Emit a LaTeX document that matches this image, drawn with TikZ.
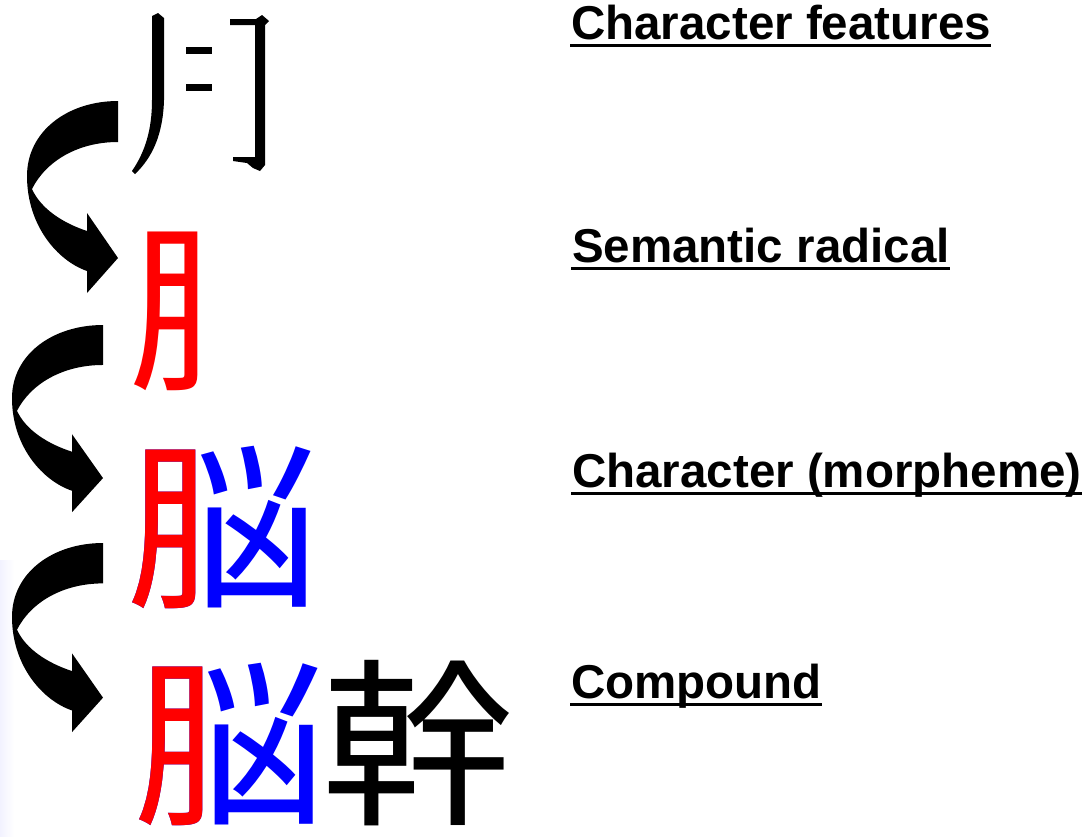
\documentclass[tikz,border=0pt]{standalone}
\usepackage{fontspec}
\setmainfont{Liberation Sans}
\newfontfamily\cjk{Noto Sans CJK JP}
\usetikzlibrary{calc}
\definecolor{radred}{RGB}{255,0,0}
\definecolor{phonblue}{RGB}{0,0,255}
\newcommand{\widechar}[1]{\scalebox{1.07}[1]{#1}}
\tikzset{
  lbl/.style={anchor=base west, inner sep=0pt, font=\fontsize{47.5}{55}\selectfont\bfseries},
  ul/.style={line width=3.5pt},
  han/.style={anchor=base west, inner sep=0pt, font=\cjk\fontsize{180}{200}\selectfont},
  curvarrow/.pic={
    \fill[black] (0,0) .. controls (-50,0) and (-91,30) .. (-91,75)
      .. controls (-91,125) and (-60,160) .. (-31,170)
      -- (-31,192) -- (0,157) -- (-31,112) -- (-31,130)
      .. controls (-55,122) and (-77,108) .. (-86,88)
      .. controls (-72,60) and (-40,41) .. (0,41) -- cycle;
  }
}
\begin{document}
\begin{tikzpicture}[x=1pt,y=-1pt]
\useasboundingbox (0,0) rectangle (1083,836);
\shade[left color=blue!5, right color=white] (0,560) rectangle (14,836);

% row 1: character features (separate strokes)
\fill (152,16) -- (158,13) -- (164,18) -- (164,100)
  .. controls (163,135) and (152,158) .. (135,174) -- (132,171)
  .. controls (145,152) and (152,130) .. (152,100) -- cycle;
\fill (186,47) rectangle (212,54);
\fill (186,84) rectangle (212,91);
\fill (230,19) -- (256,19) -- (262,15) -- (269,21) -- (265,25) -- (265,165)
  -- (260,171) -- (253,168) -- (247,163) -- (233,161) -- (233,157)
  -- (255,157) -- (255,25) -- (230,25) -- cycle;

% row 2: semantic radical (left part of 脳)
\begin{scope}
  \clip (100,200) rectangle (200,400);
  \node[han, text=radred] (rad) at (128,376) {\widechar{脳}};
\end{scope}

% row 3: character
\node[han, text=phonblue] (chr) at (126,594) {\widechar{脳}};
\begin{scope}
  \clip (100,420) rectangle (198,620);
  \node[han, text=radred] (chrL) at (126,594) {\widechar{脳}};
\end{scope}

% row 4: compound
\node[han, text=phonblue] (cmpA) at (133,811) {\widechar{脳}};
\begin{scope}
  \clip (100,640) rectangle (205,836);
  \node[han, text=radred] (cmpAL) at (133,811) {\widechar{脳}};
\end{scope}
\node[han] (cmpB) at (321,811) {\widechar{幹}};

% arrows
\pic at (118,101) {curvarrow};
\pic[yscale=0.975] at (103,325) {curvarrow};
\pic[yscale=0.985] at (103,543) {curvarrow};

% labels
\node[lbl] (t1) at (571,39) {Character features};
\node[lbl] (t2) at (572,262) {Semantic radical};
\node[lbl] (t3) at (572,487) {Character (morpheme)};
\node[lbl] (t4) at (571,698) {Compound};
\foreach \t in {t1,t2,t3,t4}
  \draw[ul] ($(\t.base west)+(-1,6.5)$) -- ($(\t.base east)+(0,6.5)$);
\end{tikzpicture}
\end{document}
